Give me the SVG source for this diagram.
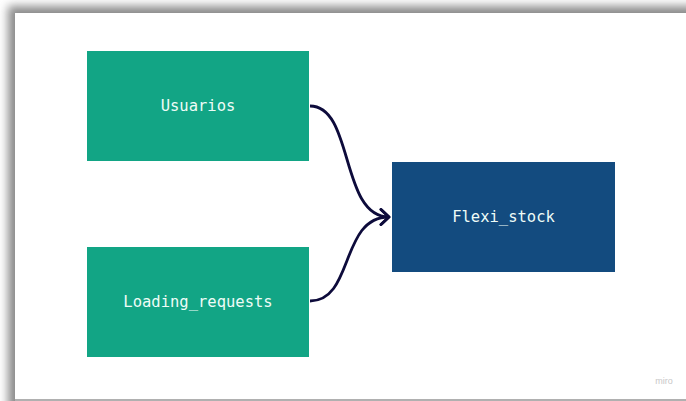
<svg xmlns="http://www.w3.org/2000/svg" width="686" height="401" viewBox="0 0 686 401">
  <defs>
    <filter id="shadow" x="-10%" y="-10%" width="120%" height="120%">
      <feGaussianBlur stdDeviation="5"/>
    </filter>
    <marker id="chev" viewBox="0 0 12 18" refX="10" refY="9" markerWidth="12" markerHeight="18" markerUnits="userSpaceOnUse" orient="auto">
      <path d="M2,1.5 L10,9 L2,16.5" fill="none" stroke="#0d0b3b" stroke-width="2.8" stroke-linecap="round" stroke-linejoin="round"/>
    </marker>
  </defs>
  <style>
    .node { stroke: none; }
    .green { fill: #12a585; }
    .blue { fill: #134b7f; }
    .label { font-family: "DejaVu Sans Mono", "Liberation Mono", monospace; font-size: 15.5px; fill: #eefcf7; text-anchor: middle; }
    .link { fill: none; stroke: #0d0b3b; stroke-width: 2.8; marker-end: url(#chev); }
  </style>
  <rect width="686" height="401" fill="#ffffff"/>
  <rect x="8" y="6" width="720" height="420" fill="#8a8a8a" filter="url(#shadow)"/>
  <rect x="15" y="13" width="700" height="386" fill="#ffffff"/>
  <rect x="15" y="399" width="700" height="2" fill="#b0b0b0"/>

  <g id="node-usuarios">
    <rect class="node green" x="87" y="51" width="222" height="110"/>
    <text class="label" x="198" y="111">Usuarios</text>
  </g>
  <g id="node-loading-requests">
    <rect class="node green" x="87" y="247" width="222" height="110"/>
    <text class="label" x="198" y="307">Loading_requests</text>
  </g>
  <g id="node-flexi-stock">
    <rect class="node blue" x="392" y="162" width="223" height="110"/>
    <text class="label" x="503.5" y="222">Flexi_stock</text>
  </g>

  <g id="connectors">
    <path class="link" d="M310,106 C354,106 340,217 389,217"/>
    <path class="link" d="M310,301 C354,301 340,217 389,217"/>
  </g>

  <text x="664" y="384" font-family="Liberation Sans, Arial, sans-serif" font-size="9" fill="#c8c8c8" text-anchor="middle">miro</text>
</svg>
